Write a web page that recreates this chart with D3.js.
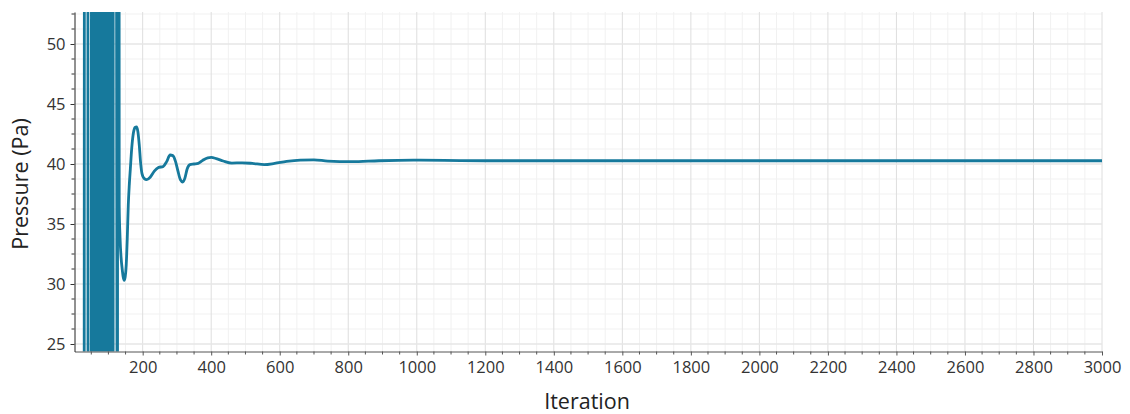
<!DOCTYPE html>
<html>
<head>
<meta charset="utf-8">
<script src="https://cdn.jsdelivr.net/npm/d3@7"></script>
<style>
  body { margin: 0; background: #fff; }
  svg text { font-family: "Open Sans", "Noto Sans", sans-serif; }
</style>
</head>
<body>
<div id="chart"></div>
<script>
// iterations and pressure values
var iterations = [
  26, 36, 45, 55, 57, 60, 62, 65, 67, 70, 72, 75, 77, 80, 82, 85, 87, 90, 92, 95, 97, 100, 102,
  104, 108, 110.5, 112, 115.5, 126.5, 128.5, 131.5,
  134, 137, 140, 143, 146, 149, 152, 155, 158, 161, 164, 168, 173, 178, 182, 186, 190, 194, 198,
  204, 212, 222, 234, 246, 260, 270, 280, 288, 296, 303, 310, 317, 323, 330, 338, 350, 362, 375,
  390, 400, 415, 435, 460, 490, 520, 555, 585, 620, 660, 700, 740, 810, 890, 990, 1080, 1200,
  1500, 2000, 2500, 3000
];
var pressure = [
  -250, 320, -280, 310, -260, 290, -300, 270, -240, 330, -290, 260, -270, 300, -250, 280, -300, 260, -280, 300, -260, 280, -240,
  290, -260, 52.4, -240, 300, 10, 300, 36.6,
  33.8, 32.2, 31.3, 30.6, 30.3, 30.6, 31.6, 33.8, 36.6, 38.3, 39.6, 41.3, 42.6, 43.05, 43.1, 42.7, 41.6, 40.1, 39.2,
  38.8, 38.7, 38.9, 39.4, 39.7, 39.8, 40.2, 40.75, 40.7, 40.2, 39.4, 38.7, 38.5, 38.8, 39.6, 39.95, 40.0, 40.05, 40.3,
  40.52, 40.55, 40.45, 40.25, 40.08, 40.1, 40.05, 39.95, 40.05, 40.22, 40.33, 40.35, 40.24, 40.19, 40.27, 40.32, 40.3, 40.27,
  40.27, 40.27, 40.27, 40.27
];
var xTicks = d3.range(200, 3001, 200);
var yTicks = [25, 30, 35, 40, 45, 50];

var width = 1130, height = 414;
var m = { left: 74.5, right: 1102, top: 12, bottom: 351.5 };

var x = d3.scaleLinear().domain([1, 3000]).range([m.left, m.right]);
var y = d3.scaleLinear().domain([24.375, 52.667]).range([m.bottom, m.top]);

var xMinor = d3.range(50, 3001, 50).filter(function(d) { return d % 200 !== 0; });
var yMinor = d3.range(23.75, 52.7, 1.25).filter(function(d) { return d >= 24.375 && d % 5 !== 0; });

var svg = d3.select("#chart").append("svg")
  .attr("width", width)
  .attr("height", height);

svg.append("defs").append("clipPath").attr("id", "clip")
  .append("rect")
  .attr("x", m.left).attr("y", m.top)
  .attr("width", m.right - m.left).attr("height", m.bottom - m.top);

var grid = svg.append("g");

// minor grid
grid.selectAll(".vmin").data(xMinor).enter().append("line")
  .attr("x1", function(d) { return x(d); }).attr("x2", function(d) { return x(d); })
  .attr("y1", m.top).attr("y2", m.bottom)
  .attr("stroke", "#f1f1f1").attr("stroke-width", 1);
grid.selectAll(".hmin").data(yMinor).enter().append("line")
  .attr("x1", m.left).attr("x2", m.right)
  .attr("y1", function(d) { return y(d); }).attr("y2", function(d) { return y(d); })
  .attr("stroke", "#f1f1f1").attr("stroke-width", 1);

// major grid
grid.selectAll(".vmaj").data(xTicks).enter().append("line")
  .attr("x1", function(d) { return x(d); }).attr("x2", function(d) { return x(d); })
  .attr("y1", m.top).attr("y2", m.bottom)
  .attr("stroke", "#dedede").attr("stroke-width", 1);
grid.selectAll(".hmaj").data(yTicks).enter().append("line")
  .attr("x1", m.left).attr("x2", m.right)
  .attr("y1", function(d) { return y(d); }).attr("y2", function(d) { return y(d); })
  .attr("stroke", "#e6e6e6").attr("stroke-width", 1.5);

// the series
var line = d3.line()
  .x(function(d, i) { return x(iterations[i]); })
  .y(function(d) { return y(d); })
  .curve(d3.curveMonotoneX);

svg.append("path")
  .datum(pressure)
  .attr("clip-path", "url(#clip)")
  .attr("fill", "none")
  .attr("stroke", "#16799c")
  .attr("stroke-width", 2.8)
  .attr("stroke-linejoin", "round")
  .attr("d", line);

// x axis
var xAxis = svg.append("g").attr("transform", "translate(0," + m.bottom + ")");
xAxis.call(d3.axisBottom(x).tickValues(xTicks).tickFormat(d3.format("d"))
  .tickSize(4).tickSizeOuter(0).tickPadding(6));
xAxis.select(".domain").attr("stroke", "#555");
xAxis.selectAll(".tick line").attr("stroke", "#555");
xAxis.selectAll("text").attr("font-size", 16.5).attr("fill", "#333")
  .attr("font-family", "'Open Sans', sans-serif");
xAxis.selectAll(".minor").data(xMinor).enter().append("line")
  .attr("x1", function(d) { return x(d); }).attr("x2", function(d) { return x(d); })
  .attr("y1", 0).attr("y2", 3)
  .attr("stroke", "#555");

// y axis
var yAxis = svg.append("g").attr("transform", "translate(" + m.left + ",0)");
yAxis.call(d3.axisLeft(y).tickValues(yTicks).tickFormat(d3.format("d"))
  .tickSize(4).tickSizeOuter(0).tickPadding(5));
yAxis.select(".domain").attr("stroke", "#222");
yAxis.selectAll(".tick line").attr("stroke", "#333");
yAxis.selectAll("text").attr("font-size", 16.5).attr("fill", "#333")
  .attr("font-family", "'Open Sans', sans-serif");
yAxis.selectAll(".minor").data(yMinor).enter().append("line")
  .attr("x1", -3).attr("x2", 0)
  .attr("y1", function(d) { return y(d); }).attr("y2", function(d) { return y(d); })
  .attr("stroke", "#333");

// titles
svg.append("text")
  .attr("x", 587).attr("y", 409)
  .attr("text-anchor", "middle")
  .attr("font-size", 21.5).attr("fill", "#222")
  .text("Iteration");

svg.append("text")
  .attr("transform", "translate(28,184) rotate(-90)")
  .attr("text-anchor", "middle")
  .attr("font-size", 21.5).attr("fill", "#222")
  .text("Pressure (Pa)");
</script>
</body>
</html>
